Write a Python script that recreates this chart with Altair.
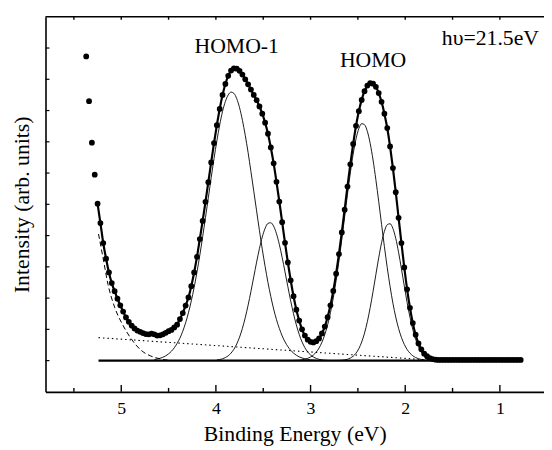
import altair as alt
import pandas as pd

# ---------------- data ----------------
E_GRID = [5.37, 5.34, 5.31, 5.28, 5.25, 5.22, 5.19, 5.16, 5.13, 5.10,
          5.07, 5.04, 5.01, 4.98, 4.95, 4.92, 4.89, 4.86, 4.83, 4.80,
          4.77, 4.74, 4.71, 4.68, 4.65, 4.62, 4.59, 4.56, 4.53, 4.50,
          4.47, 4.44, 4.41, 4.38, 4.35, 4.32, 4.29, 4.26, 4.23, 4.20,
          4.17, 4.14, 4.11, 4.08, 4.05, 4.02, 3.99, 3.96, 3.93, 3.90,
          3.87, 3.84, 3.81, 3.78, 3.75, 3.72, 3.69, 3.66, 3.63, 3.60,
          3.57, 3.54, 3.51, 3.48, 3.45, 3.42, 3.39, 3.36, 3.33, 3.30,
          3.27, 3.24, 3.21, 3.18, 3.15, 3.12, 3.09, 3.06, 3.03, 3.00,
          2.97, 2.94, 2.91, 2.88, 2.85, 2.82, 2.79, 2.76, 2.73, 2.70,
          2.67, 2.64, 2.61, 2.58, 2.55, 2.52, 2.49, 2.46, 2.43, 2.40,
          2.37, 2.34, 2.31, 2.28, 2.25, 2.22, 2.19, 2.16, 2.13, 2.10,
          2.07, 2.04, 2.01, 1.98, 1.95, 1.92, 1.89, 1.86, 1.83, 1.80,
          1.77, 1.74, 1.71, 1.68, 1.65, 1.62, 1.59, 1.56, 1.53, 1.50,
          1.47, 1.44, 1.41, 1.38, 1.35, 1.32, 1.29, 1.26, 1.23, 1.20,
          1.17, 1.14, 1.11, 1.08, 1.05, 1.02, 0.99, 0.96, 0.93, 0.90,
          0.87, 0.84, 0.81, 0.78]

SPECTRUM = [9.73, 8.30, 6.97, 5.95, 5.02, 4.40, 3.76, 3.26, 2.82, 2.48,
            2.22, 1.98, 1.77, 1.57, 1.38, 1.24, 1.12, 1.03, 0.96, 0.92,
            0.88, 0.85, 0.84, 0.86, 0.84, 0.80, 0.81, 0.84, 0.89, 0.94,
            0.98, 1.06, 1.15, 1.33, 1.52, 1.76, 2.02, 2.38, 2.82, 3.32,
            3.89, 4.47, 5.08, 5.71, 6.34, 6.96, 7.53, 8.05, 8.50, 8.85,
            9.11, 9.28, 9.35, 9.34, 9.27, 9.15, 9.00, 8.84, 8.67, 8.50,
            8.33, 8.13, 7.90, 7.61, 7.26, 6.82, 6.31, 5.72, 5.09, 4.43,
            3.77, 3.14, 2.57, 2.06, 1.63, 1.28, 1.00, 0.80, 0.67, 0.60,
            0.58, 0.62, 0.71, 0.87, 1.09, 1.39, 1.77, 2.23, 2.78, 3.41,
            4.10, 4.83, 5.57, 6.28, 6.93, 7.51, 7.98, 8.34, 8.62, 8.80,
            8.88, 8.86, 8.76, 8.56, 8.28, 7.90, 7.44, 6.85, 6.16, 5.39,
            4.57, 3.76, 2.98, 2.28, 1.69, 1.20, 0.83, 0.55, 0.36, 0.22,
            0.14, 0.08, 0.05, 0.03, 0.02, 0.02, 0.02, 0.02, 0.02, 0.02,
            0.02, 0.02, 0.02, 0.02, 0.02, 0.02, 0.02, 0.02, 0.02, 0.02,
            0.02, 0.02, 0.02, 0.02, 0.02, 0.02, 0.02, 0.02, 0.02, 0.02,
            0.02, 0.02, 0.02, 0.02]
LINE_START = 4  # the fitted curve starts at the 5th point

# fitted components (start index in E_GRID, values)
G1_START = 24
G1 = [0.034, 0.051, 0.074, 0.108, 0.153, 0.216, 0.30, 0.41, 0.55, 0.72,
      0.94, 1.21, 1.53, 1.91, 2.34, 2.83, 3.37, 3.96, 4.58, 5.21,
      5.85, 6.46, 7.03, 7.54, 7.97, 8.29, 8.50, 8.59, 8.55, 8.38,
      8.09, 7.69, 7.21, 6.66, 6.05, 5.42, 4.79, 4.16, 3.56, 3.01,
      2.50, 2.05, 1.65, 1.31, 1.03, 0.79, 0.60, 0.45, 0.33, 0.24,
      0.17, 0.12, 0.084, 0.058, 0.039, 0.026, 0.017, 0.011]
G2_START = 46
G2 = [0.02, 0.034, 0.058, 0.097, 0.155, 0.241, 0.363, 0.531, 0.751, 1.032,
      1.372, 1.77, 2.213, 2.68, 3.149, 3.585, 3.957, 4.233, 4.39, 4.41,
      4.30, 4.06, 3.718, 3.30, 2.839, 2.367, 1.913, 1.499, 1.139, 0.838,
      0.598, 0.414, 0.278, 0.18, 0.114, 0.069, 0.041, 0.024, 0.013, 0.007]
G3_START = 71
G3 = [0.001, 0.0025, 0.005, 0.009, 0.015, 0.026, 0.044, 0.072, 0.115, 0.179,
      0.273, 0.405, 0.586, 0.827, 1.14, 1.531, 2.005, 2.562, 3.194, 3.882,
      4.604, 5.324, 6.006, 6.609, 7.092, 7.423, 7.58, 7.548, 7.332, 6.946,
      6.419, 5.785, 5.086, 4.362, 3.648, 2.976, 2.368, 1.838, 1.391, 1.027,
      0.74, 0.52, 0.356, 0.238, 0.155, 0.099, 0.061, 0.037, 0.022, 0.013,
      0.007]
G4_START = 89
G4 = [0.005, 0.011, 0.023, 0.044, 0.081, 0.142, 0.238, 0.384, 0.594, 0.879,
      1.248, 1.696, 2.208, 2.755, 3.292, 3.77, 4.137, 4.348, 4.379, 4.226,
      3.907, 3.461, 2.937, 2.388, 1.86, 1.389, 0.993, 0.680, 0.447, 0.281,
      0.169, 0.098, 0.054, 0.029, 0.015, 0.007]

# secondary-electron tail (dashed)
TAIL_E = [5.24, 5.19, 5.14, 5.07, 4.98, 4.90, 4.79, 4.69, 4.58, 4.50]
TAIL_V = [4.05, 3.25, 2.44, 1.71, 1.12, 0.72, 0.33, 0.15, 0.05, 0.01]

# linear background (dotted) and zero line
BG_E = [5.24, 1.65]
BG_V = [0.735, 0.0]
ZERO_E = [5.24, 0.78]
ZERO_V = [0.0, 0.0]

# annotations
LABELS = ["HOMO-1", "HOMO", "h\u03c5=21.5eV"]
LABEL_E = [3.78, 2.34, 1.10]
LABEL_V = [9.83, 9.39, 10.09]

# tick positions
X_MAJOR = [1, 2, 3, 4, 5]
X_MINOR = [1.5, 2.5, 3.5, 4.5, 5.5]
X_TOP = [1.0, 1.5, 2.0, 2.5, 3.0, 3.5, 4.0, 4.5, 5.0, 5.5]
Y_TICKS = [0, 1, 2, 3, 4, 5, 6, 7, 8, 9, 10]

X_DOMAIN = [0.534, 5.8]
Y_DOMAIN = [-1, 11]

# ---------------- chart ----------------
W, H = 505, 380
FONT = "Liberation Serif"

x_scale = alt.Scale(domain=X_DOMAIN, reverse=True, nice=False, zero=False)
y_scale = alt.Scale(domain=Y_DOMAIN, nice=False, zero=False)
x_axis = alt.Axis(values=X_MAJOR, format="d", title="Binding Energy (eV)",
                  ticks=False, tickSize=0, grid=False, labelPadding=8,
                  titlePadding=6, labelFont=FONT, titleFont=FONT)
y_axis = alt.Axis(labels=False, ticks=False, tickSize=0, grid=False,
                  title="Intensity (arb. units)", titlePadding=12,
                  labelFont=FONT, titleFont=FONT)


def xe():
    return alt.X("E:Q", scale=x_scale, axis=x_axis)


def yv():
    return alt.Y("v:Q", scale=y_scale, axis=y_axis)


spec_df = pd.DataFrame({"E": E_GRID, "v": SPECTRUM})
line_df = pd.DataFrame({"E": E_GRID[LINE_START:], "v": SPECTRUM[LINE_START:]})

comp_rows = []
for name, start, vals in [("G1", G1_START, G1), ("G2", G2_START, G2),
                          ("G3", G3_START, G3), ("G4", G4_START, G4)]:
    for e, v in zip(E_GRID[start:start + len(vals)], vals):
        comp_rows.append({"E": e, "v": v, "comp": name})
comp_df = pd.DataFrame(comp_rows)

tail_df = pd.DataFrame({"E": TAIL_E, "v": TAIL_V})
bg_df = pd.DataFrame({"E": BG_E, "v": BG_V})
zero_df = pd.DataFrame({"E": ZERO_E, "v": ZERO_V})
lab_df = pd.DataFrame({"E": LABEL_E, "v": LABEL_V, "t": LABELS})

zero_line = alt.Chart(zero_df).mark_line(color="black", strokeWidth=2.4).encode(x=xe(), y=yv())
bg_line = alt.Chart(bg_df).mark_line(color="black", strokeWidth=1.1, strokeDash=[1.5, 3]).encode(x=xe(), y=yv())
tail_line = alt.Chart(tail_df).mark_line(color="black", strokeWidth=1.0, strokeDash=[5, 3],
                                         interpolate="monotone").encode(x=xe(), y=yv())
comps = alt.Chart(comp_df).mark_line(color="black", strokeWidth=0.9, interpolate="monotone").encode(
    x=xe(), y=yv(), detail="comp:N")
fit_line = alt.Chart(line_df).mark_line(color="black", strokeWidth=2.2, interpolate="monotone").encode(
    x=xe(), y=yv())
points = alt.Chart(spec_df).mark_circle(color="black", size=34, opacity=1).encode(x=xe(), y=yv())
labels = alt.Chart(lab_df).mark_text(font=FONT, fontSize=22, color="black", align="center",
                                     baseline="alphabetic").encode(x=xe(), y=yv(), text="t:N")

# frame and inward ticks
top_frame = alt.Chart(pd.DataFrame({"a": [0]})).mark_rule(color="black", strokeWidth=1.6).encode(
    x=alt.value(0), x2=alt.value(W), y=alt.value(0))
bot_major = alt.Chart(pd.DataFrame({"E": X_MAJOR})).mark_rule(color="black", strokeWidth=1.4).encode(
    x=xe(), y=alt.value(H), y2=alt.value(H - 7))
bot_minor = alt.Chart(pd.DataFrame({"E": X_MINOR})).mark_rule(color="black", strokeWidth=1.4).encode(
    x=xe(), y=alt.value(H), y2=alt.value(H - 4))
top_ticks = alt.Chart(pd.DataFrame({"E": X_TOP})).mark_rule(color="black", strokeWidth=1.4).encode(
    x=xe(), y=alt.value(0), y2=alt.value(3))
left_ticks = alt.Chart(pd.DataFrame({"v": Y_TICKS})).mark_rule(color="black", strokeWidth=1.2).encode(
    y=yv(), x=alt.value(0), x2=alt.value(4))

chart = alt.layer(
    zero_line, bg_line, tail_line, comps, fit_line, points, labels,
    top_frame, bot_major, bot_minor, top_ticks, left_ticks
).properties(
    width=W, height=H,
    autosize=alt.AutoSizeParams(type="none"),
    padding={"left": 38, "top": 6, "right": 0, "bottom": 56},
).configure_view(
    stroke=None
).configure_axis(
    domainColor="black", domainWidth=1.6,
    labelFont=FONT, labelFontSize=18, labelColor="black",
    titleFont=FONT, titleFontSize=22, titleFontWeight="normal", titleColor="black",
)

chart.save("out.html", embed_options={"renderer": "svg", "actions": False})
